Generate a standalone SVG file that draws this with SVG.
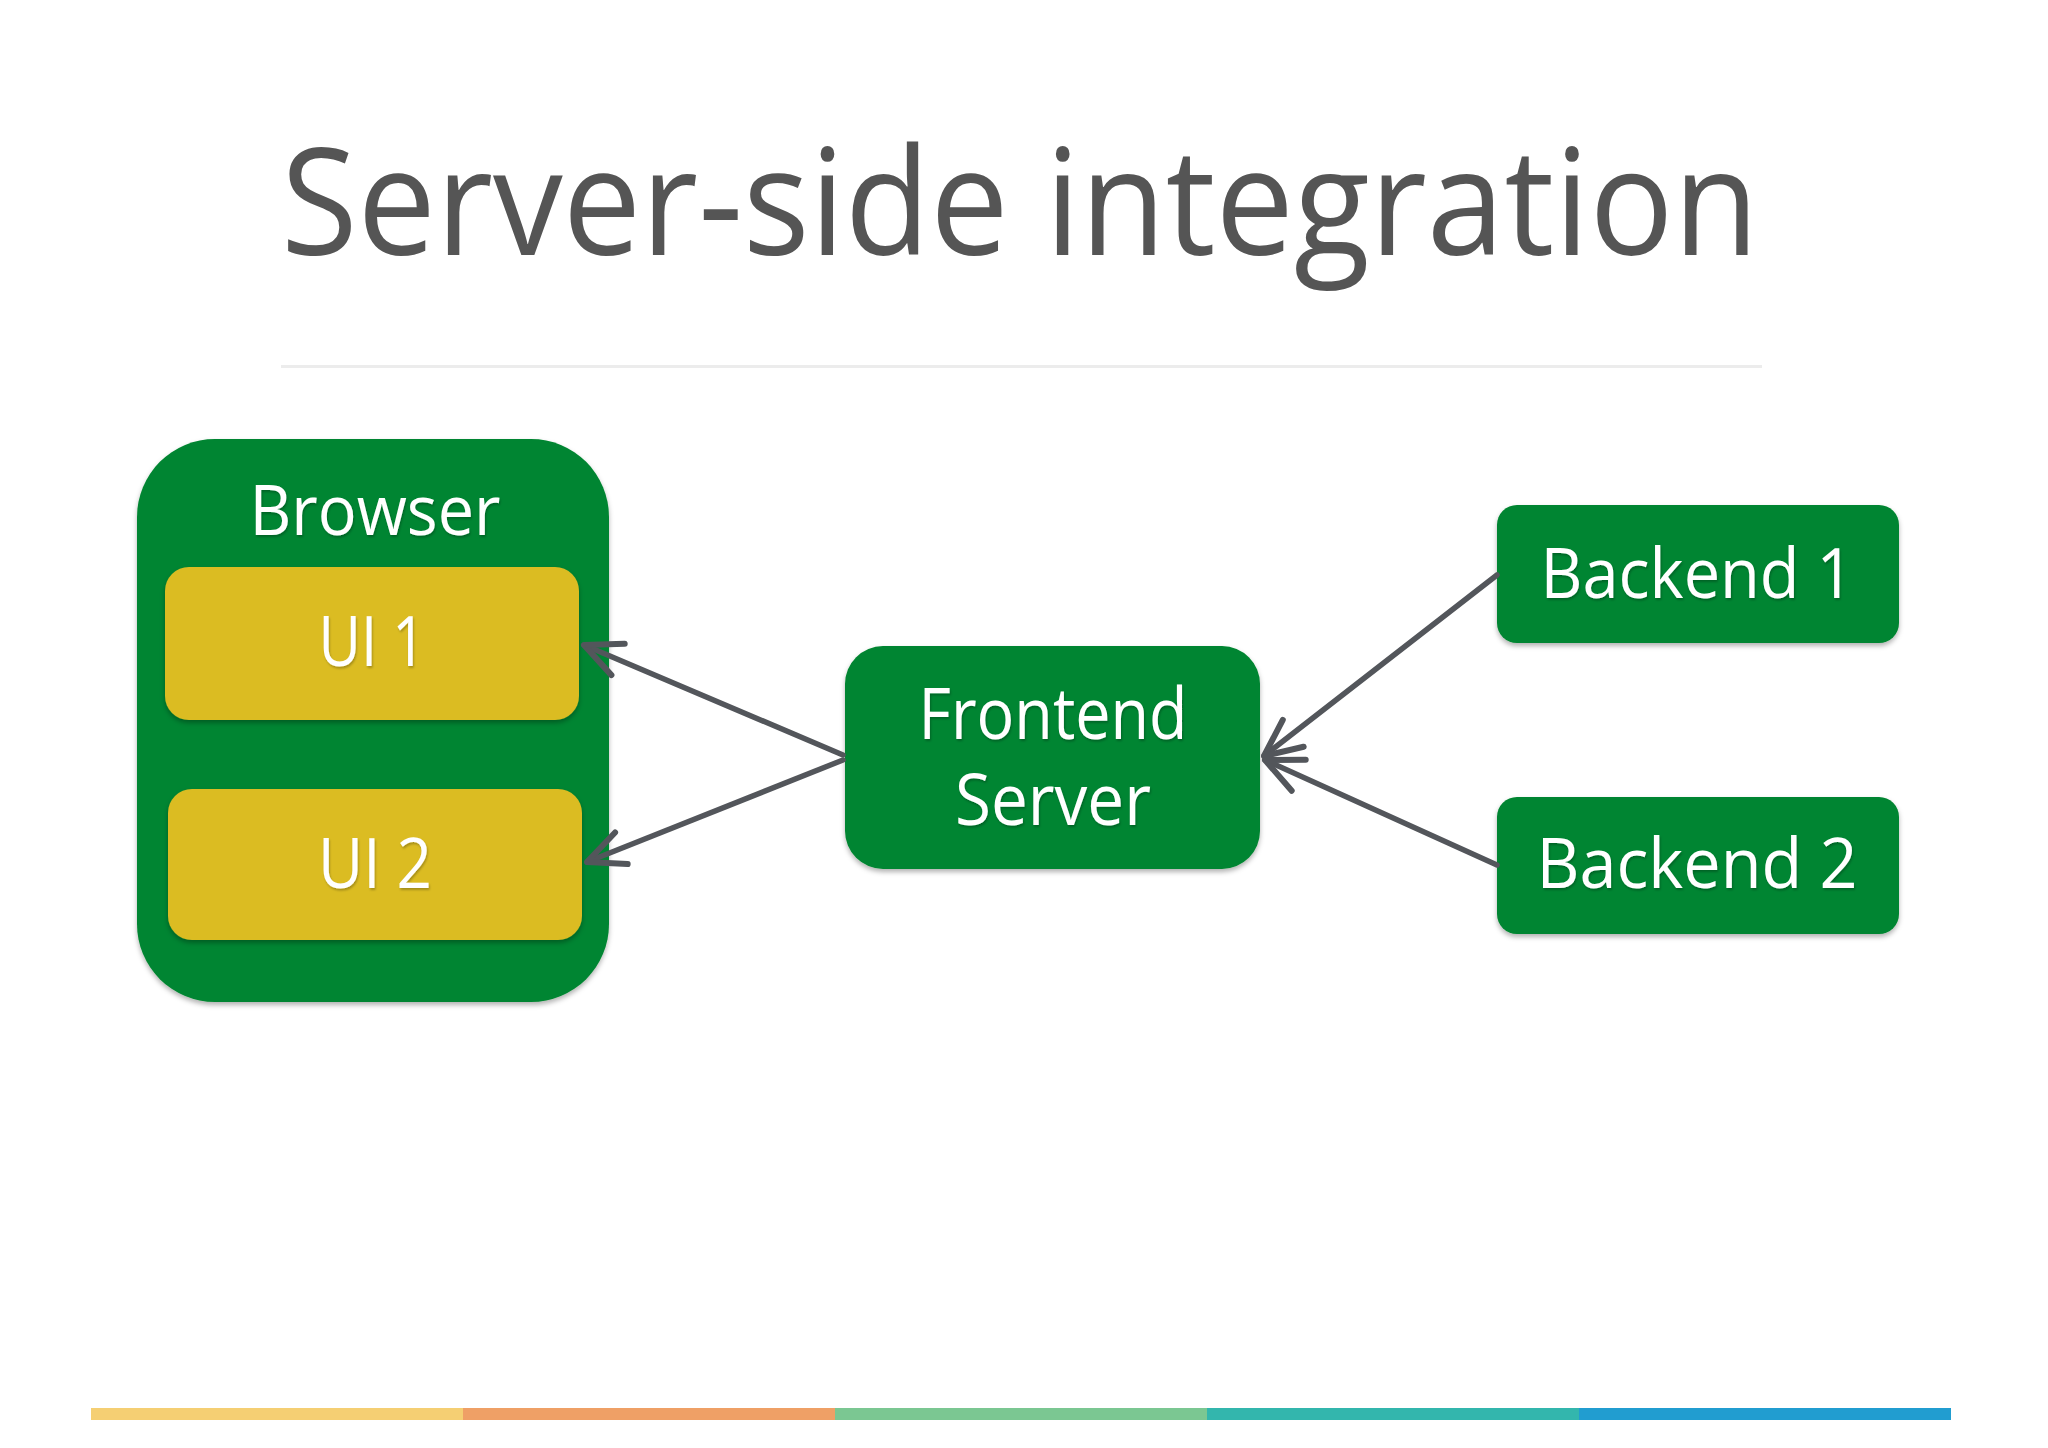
<svg xmlns="http://www.w3.org/2000/svg" width="2048" height="1448" viewBox="0 0 2048 1448">
<defs>
<style>
.title{font-family:"Open Sans","Liberation Sans",sans-serif;font-weight:400;fill:#555555;}
.lbl{font-family:"Open Sans","Liberation Sans",sans-serif;fill:#ffffff;text-anchor:middle;}
.green{fill:#008530;}
.yellow{fill:#dbbc24;}
.conn{stroke:#53565b;stroke-width:5.5;fill:none;stroke-linecap:round;}
</style>
<filter id="sh" x="-10%" y="-10%" width="120%" height="130%">
<feDropShadow dx="0" dy="3" stdDeviation="2.5" flood-color="#000" flood-opacity="0.3"/>
</filter>
<filter id="tsh" x="-10%" y="-10%" width="120%" height="130%">
<feDropShadow dx="1" dy="2" stdDeviation="1" flood-color="#000" flood-opacity="0.25"/>
</filter>
<marker id="arr" markerUnits="userSpaceOnUse" markerWidth="60" markerHeight="60" viewBox="-50 -30 60 60" refX="0" refY="0" orient="auto">
<path d="M-37,-17 L0,0 L-37,17" stroke="#53565b" stroke-width="6" fill="none" stroke-linecap="round" stroke-linejoin="round"/>
</marker>
</defs>
<rect width="2048" height="1448" fill="#ffffff"/>
<text class="title" x="1020" y="255" font-size="148" text-anchor="middle" textLength="1478" lengthAdjust="spacingAndGlyphs">Server-side integration</text>
<rect x="281" y="365" width="1481" height="3" fill="#ececec"/>

<g id="browser">
<rect class="green" x="137" y="439" width="472" height="563" rx="78" filter="url(#sh)"/>
<text class="lbl" x="375" y="535" font-size="70" textLength="251" lengthAdjust="spacingAndGlyphs" filter="url(#tsh)">Browser</text>
</g>
<g id="ui1">
<rect class="yellow" x="165" y="567" width="414" height="153" rx="24" filter="url(#sh)"/>
<text class="lbl" x="372" y="666" font-size="70" textLength="107" lengthAdjust="spacingAndGlyphs" filter="url(#tsh)">UI 1</text>
</g>
<g id="ui2">
<rect class="yellow" x="168" y="789" width="414" height="151" rx="24" filter="url(#sh)"/>
<text class="lbl" x="375" y="888" font-size="70" textLength="114" lengthAdjust="spacingAndGlyphs" filter="url(#tsh)">UI 2</text>
</g>
<g id="frontend">
<rect class="green" x="845" y="646" width="415" height="223" rx="38" filter="url(#sh)"/>
<text class="lbl" x="1053" y="739" font-size="72" textLength="269" lengthAdjust="spacingAndGlyphs" filter="url(#tsh)">Frontend</text>
<text class="lbl" x="1053" y="825" font-size="72" textLength="196" lengthAdjust="spacingAndGlyphs" filter="url(#tsh)">Server</text>
</g>
<g id="backend1">
<rect class="green" x="1497" y="505" width="402" height="138" rx="20" filter="url(#sh)"/>
<text class="lbl" x="1697" y="598" font-size="70" textLength="313" lengthAdjust="spacingAndGlyphs" filter="url(#tsh)">Backend 1</text>
</g>
<g id="backend2">
<rect class="green" x="1497" y="797" width="402" height="137" rx="20" filter="url(#sh)"/>
<text class="lbl" x="1697" y="888" font-size="70" textLength="321" lengthAdjust="spacingAndGlyphs" filter="url(#tsh)">Backend 2</text>
</g>

<g id="connectors">
<line class="conn" x1="843" y1="755" x2="584" y2="645" marker-end="url(#arr)"/>
<line class="conn" x1="843" y1="760" x2="587" y2="862" marker-end="url(#arr)"/>
<line class="conn" x1="1497" y1="575" x2="1264" y2="756" marker-end="url(#arr)"/>
<line class="conn" x1="1497" y1="865" x2="1265" y2="760" marker-end="url(#arr)"/>
</g>

<g id="bottombar">
<rect x="91" y="1408" width="372" height="12" fill="#f5cf73"/>
<rect x="463" y="1408" width="372" height="12" fill="#efa066"/>
<rect x="835" y="1408" width="372" height="12" fill="#7bc792"/>
<rect x="1207" y="1408" width="372" height="12" fill="#33b6ad"/>
<rect x="1579" y="1408" width="372" height="12" fill="#219dd0"/>
</g>
</svg>
